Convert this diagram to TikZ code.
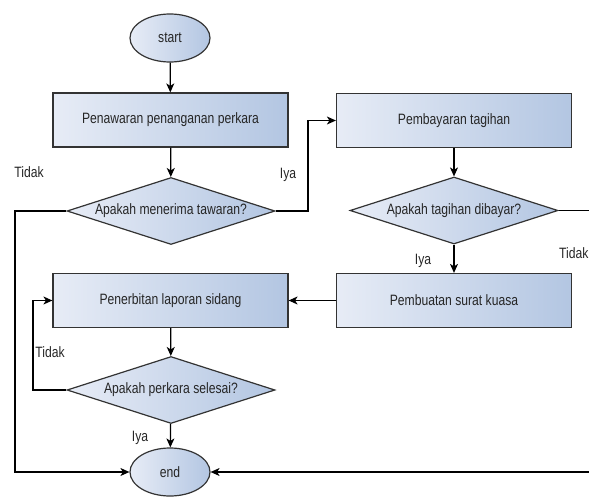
\documentclass[tikz,border=0pt]{standalone}
\usepackage{fontspec}
\setmainfont[FakeStretch=0.81]{Liberation Sans}
\usetikzlibrary{shapes.geometric, arrows.meta}
\definecolor{fillL}{HTML}{E7ECF6}
\definecolor{fillR}{HTML}{B3C6E2}
\definecolor{edge}{HTML}{333333}
\tikzstyle{base}=[draw=edge, line width=1.2pt, left color=fillL, right color=fillR, font=\fontsize{15}{17}\selectfont, text=black!85, inner sep=0]
\tikzstyle{proc}=[base, rectangle, minimum width=235pt, minimum height=54pt]
\tikzstyle{term}=[base, ellipse, minimum width=80pt, minimum height=48pt]
\tikzstyle{cond}=[base, diamond, aspect=3.1, minimum width=208pt, minimum height=67pt]
\tikzstyle{lbl}=[font=\fontsize{15}{17}\selectfont, text=black!85, inner sep=0]
\tikzstyle{arr}=[line width=1.2pt, -{Stealth[length=9pt, width=8pt, inset=2.5pt]}]

\begin{document}
\begin{tikzpicture}[x=1pt, y=-1pt]
  \useasboundingbox (0,0) rectangle (589,498);
  \clip (0,0) rectangle (589,498);
  \node[term] (start) at (170,38) {start};
  \node[proc] (b1) at (170.5,120) {Penawaran penanganan perkara};
  \node[cond] (d1) at (171,211) {Apakah menerima tawaran?};
  \node[proc] (b2) at (454,120.5) {Pembayaran tagihan};
  \node[cond] (d2) at (454,210.5) {Apakah tagihan dibayar?};
  \node[proc] (b3) at (454,300.5) {Pembuatan surat kuasa};
  \node[proc] (b4) at (170.5,300.5) {Penerbitan laporan sidang};
  \node[cond] (d3) at (171,390) {Apakah perkara selesai?};
  \node[term] (finish) at (170,472) {end};
  \coordinate (rt) at (600,210.5);

  \foreach \a/\b in {start/b1, b1/d1, b2/d2, d2/b3, b3/b4, b4/d3, d3/finish}
    \draw[arr] (\a) -- (\b);
  \draw[arr] (d1.east) -| (308,150) |- (b2.west);
  \draw[arr] (d1.west) -| (15,472) -- (finish.west);
  \draw[arr] (d3.west) -| (33,330) |- (b4.west);
  \draw[arr] (d2.east) -- (rt) |- (finish.east);

  \node[lbl] (t1) at (29,172) {Tidak};
  \node[lbl] (y1) at (288,175) {Iya};
  \node[lbl, anchor=west] (t2) at (559,253) {Tidak};
  \node[lbl] (y2) at (423,261) {Iya};
  \node[lbl] (t3) at (50,352) {Tidak};
  \node[lbl] (y3) at (140,438) {Iya};
\end{tikzpicture}
\end{document}
